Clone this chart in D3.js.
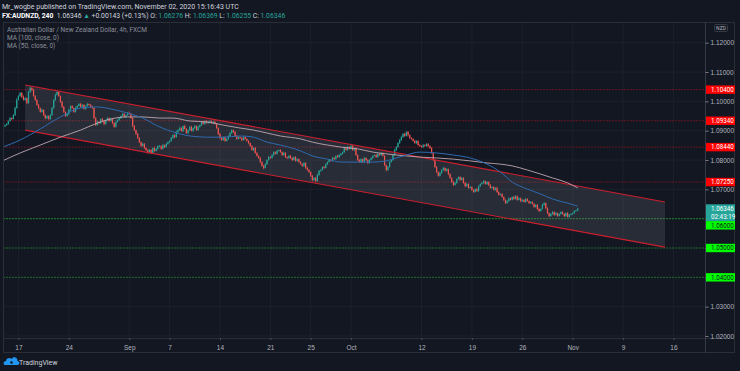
<!DOCTYPE html>
<html>
<head>
<meta charset="utf-8">
<script src="https://cdn.jsdelivr.net/npm/d3@7"></script>
<style>
html, body { margin: 0; padding: 0; background: #131722; }
svg { display: block; font-family: Roboto, "Noto Sans", sans-serif; }
</style>
</head>
<body>
<svg id="chart" width="740" height="371"></svg>
<script>
// 4h candles, one row per trading day (first row has 2 extra bars, last row is partial)
const firstOpen = 1.0915;
const closes = [
    1.0919, 1.0923, 1.0933, 1.0943, 1.0940, 1.0953, 1.0977, 1.1005,
    1.1018, 1.1029, 1.1015, 1.1005, 1.1011, 1.0994,
    1.1032, 1.1046, 1.1039, 1.1018, 1.1005, 1.0988,
    1.0977, 1.0964, 1.0971, 1.0953, 1.0943, 1.0950,
    1.0940, 1.0953, 1.0977, 1.1005, 1.1022, 1.1032,
    1.1018, 1.0998, 1.0981, 1.0964, 1.0950, 1.0957,
    1.0971, 1.0984, 1.0977, 1.0964, 1.0977, 1.0984,
    1.0991, 1.0981, 1.0988, 1.0974, 1.0984, 1.0991,
    1.0988, 1.0981, 1.0977, 1.0943, 1.0919, 1.0930,
    1.0926, 1.0940, 1.0933, 1.0923, 1.0936, 1.0943,
    1.0933, 1.0940, 1.0926, 1.0913, 1.0930, 1.0936,
    1.0943, 1.0950, 1.0957, 1.0947, 1.0953, 1.0960,
    1.0957, 1.0943, 1.0916, 1.0902, 1.0889, 1.0875,
    1.0861, 1.0848, 1.0855, 1.0841, 1.0834, 1.0827,
    1.0834, 1.0824, 1.0841, 1.0831, 1.0838, 1.0848,
    1.0848, 1.0838, 1.0851, 1.0844, 1.0855, 1.0861,
    1.0865, 1.0875, 1.0885, 1.0878, 1.0896, 1.0902,
    1.0909, 1.0899, 1.0916, 1.0906, 1.0892, 1.0902,
    1.0913, 1.0899, 1.0909, 1.0916, 1.0902, 1.0913,
    1.0919, 1.0930, 1.0923, 1.0933, 1.0926, 1.0930,
    1.0933, 1.0926, 1.0930, 1.0923, 1.0909, 1.0889,
    1.0875, 1.0868, 1.0878, 1.0865, 1.0872, 1.0882,
    1.0892, 1.0902, 1.0896, 1.0882, 1.0872, 1.0878,
    1.0875, 1.0868, 1.0878, 1.0872, 1.0865, 1.0858,
    1.0848, 1.0834, 1.0841, 1.0824, 1.0814, 1.0807,
    1.0793, 1.0780, 1.0773, 1.0786, 1.0800, 1.0810,
    1.0807, 1.0817, 1.0827, 1.0821, 1.0831, 1.0834,
    1.0827, 1.0817, 1.0824, 1.0810, 1.0807, 1.0814,
    1.0807, 1.0800, 1.0810, 1.0797, 1.0803, 1.0793,
    1.0786, 1.0780, 1.0790, 1.0773, 1.0766, 1.0759,
    1.0746, 1.0732, 1.0739, 1.0728, 1.0749, 1.0763,
    1.0766, 1.0776, 1.0773, 1.0786, 1.0793, 1.0800,
    1.0797, 1.0807, 1.0803, 1.0814, 1.0810, 1.0817,
    1.0821, 1.0827, 1.0841, 1.0834, 1.0844, 1.0838,
    1.0848, 1.0834, 1.0841, 1.0817, 1.0800, 1.0793,
    1.0803, 1.0793, 1.0807, 1.0800, 1.0790, 1.0800,
    1.0807, 1.0814, 1.0817, 1.0810, 1.0821, 1.0817,
    1.0824, 1.0814, 1.0783, 1.0766, 1.0776, 1.0793,
    1.0800, 1.0817, 1.0834, 1.0844, 1.0858, 1.0868,
    1.0878, 1.0889, 1.0882, 1.0896, 1.0885, 1.0875,
    1.0872, 1.0865, 1.0858, 1.0865, 1.0851, 1.0848,
    1.0844, 1.0851, 1.0848, 1.0855, 1.0848, 1.0841,
    1.0824, 1.0800, 1.0776, 1.0759, 1.0746, 1.0756,
    1.0766, 1.0773, 1.0763, 1.0769, 1.0752, 1.0739,
    1.0725, 1.0715, 1.0722, 1.0735, 1.0742, 1.0732,
    1.0739, 1.0722, 1.0711, 1.0718, 1.0705, 1.0708,
    1.0698, 1.0691, 1.0701, 1.0694, 1.0711, 1.0718,
    1.0722, 1.0728, 1.0718, 1.0725, 1.0715, 1.0705,
    1.0708, 1.0698, 1.0705, 1.0691, 1.0681, 1.0684,
    1.0674, 1.0664, 1.0653, 1.0660, 1.0670, 1.0664,
    1.0674, 1.0667, 1.0677, 1.0664, 1.0670, 1.0660,
    1.0664, 1.0657, 1.0667, 1.0660, 1.0653, 1.0657,
    1.0650, 1.0640, 1.0647, 1.0633, 1.0626, 1.0633,
    1.0647, 1.0653, 1.0636, 1.0619, 1.0609, 1.0616,
    1.0623, 1.0613, 1.0619, 1.0609, 1.0616, 1.0623,
    1.0616, 1.0609, 1.0619, 1.0606, 1.0613, 1.0616,
    1.0619, 1.0626, 1.0628, 1.06346
];
// wick lengths above / below the body, in pips
const upWick = [
    2,3,2,4,2,3,5,6, 4,3,2,5,3,2, 3,5,2,4,3,2, 3,2,4,2,3,2, 2,3,4,3,5,4,
    3,2,4,3,2,3, 4,2,3,2,5,3, 3,4,2,3,2,4, 2,3,4,2,3,5, 3,2,4,3,2,3,
    2,4,3,2,5,3, 3,2,4,3,2,3, 5,3,2,3,2,4, 3,2,4,3,2,3, 4,3,2,5,3,2,
    3,2,4,2,3,3, 2,4,3,2,4,3, 5,3,2,4,3,2, 3,4,2,3,2,4, 2,3,4,2,3,2,
    4,2,3,5,2,3, 3,4,2,3,2,3, 4,3,2,3,4,2, 3,2,4,3,2,3, 2,3,2,4,3,2,
    3,2,4,3,2,4, 2,4,3,2,3,2, 3,2,4,3,2,3, 4,3,2,3,4,2, 3,2,3,2,4,3,
    2,3,2,4,5,3, 3,2,4,3,2,3, 2,4,3,2,3,4, 3,2,4,3,5,2, 4,3,2,3,2,3,
    3,2,4,2,3,2, 2,3,2,4,3,2, 3,2,3,2,4,3, 2,3,4,3,2,4, 5,3,4,2,3,2,
    3,2,4,3,2,3, 2,4,3,2,3,2, 3,2,2,3,2,4, 3,4,2,3,2,3, 2,3,4,3,2,3,
    3,2,3,4,2,3, 2,3,2,4,3,2, 3,4,2,3,2,3, 2,3,2,4,3,2, 3,2,3,4,2,3,
    2,4,3,2,3,2, 3,2,4,3,2,3, 2,3,2,3,4,2, 4,3,2,3,2,3, 3,2,4,2,3,2,
    2,3,2,4,3,3, 2,3,2,2
];
const dnWick = [
    3,2,3,2,4,2,3,2, 2,3,4,2,3,4, 2,3,4,2,3,3, 4,3,2,3,5,3, 3,4,2,2,3,2,
    2,3,3,4,3,2, 3,4,2,3,2,3, 2,3,4,2,3,2, 3,2,3,4,3,2, 4,3,2,5,3,2,
    3,2,4,3,2,3, 2,3,2,3,4,2, 2,3,4,3,4,3, 4,3,2,4,3,5, 3,4,2,3,2,3,
    4,3,2,3,2,3, 3,2,3,4,2,3, 2,3,4,2,3,4, 3,2,3,4,2,3, 2,3,2,3,2,3,
    3,2,3,2,3,4, 4,3,2,3,2,3, 2,3,4,2,3,2, 3,4,2,3,2,4, 3,2,4,3,2,3,
    4,3,5,2,3,2, 3,2,3,2,3,2, 2,3,2,3,4,3, 3,4,2,3,2,3, 2,3,4,3,2,3,
    4,5,3,4,2,3, 3,2,3,2,3,2, 2,3,2,3,2,3, 3,2,3,2,3,2, 2,3,4,3,4,3,
    3,4,2,3,4,2, 2,3,2,3,2,3, 3,2,4,5,3,2, 2,3,2,3,2,3, 3,2,3,2,4,3,
    3,2,3,4,2,3, 2,3,2,3,4,3, 3,4,3,4,3,2, 3,2,3,2,4,3, 3,4,2,3,2,3,
    2,3,4,2,3,2, 4,3,2,3,2,3, 2,3,2,3,4,3, 3,2,3,4,3,2, 3,4,3,2,3,2,
    2,3,2,3,2,4, 3,2,3,2,3,2, 2,3,2,4,3,2, 2,3,4,3,4,3, 3,4,2,3,2,3,
    2,3,4,2,3,2, 3,2,2,2
];

// moving averages, sampled along the bar index
const maIdx = [-3, 9, 21, 33, 45, 55, 63, 73, 82, 92, 100, 110, 120, 130, 140, 148, 156, 164, 176, 183,
    192, 200, 210, 219, 227, 233, 239, 247, 257, 267, 277, 287, 295, 302, 311, 319, 326, 335, 341];
const ma50 = [1.0841, 1.0868, 1.0906, 1.0947, 1.0977, 1.0981, 1.0974, 1.0960, 1.0943, 1.0913, 1.0896,
    1.0882, 1.0878, 1.0878, 1.0882, 1.0878, 1.0861, 1.0851, 1.0831, 1.0814, 1.0803, 1.0793, 1.0793,
    1.0793, 1.0797, 1.0807, 1.0817, 1.0827, 1.0824, 1.0817, 1.0807, 1.0786, 1.0759, 1.0725, 1.0701,
    1.0684, 1.0667, 1.0653, 1.0643];
const ma100 = [1.0793, 1.0824, 1.0851, 1.0878, 1.0902, 1.0926, 1.0940, 1.0947, 1.0947, 1.0943, 1.0943,
    1.0933, 1.0930, 1.0919, 1.0909, 1.0902, 1.0892, 1.0882, 1.0872, 1.0861, 1.0851, 1.0844, 1.0838,
    1.0827, 1.0821, 1.0817, 1.0814, 1.0810, 1.0807, 1.0803, 1.0797, 1.0790, 1.0786, 1.0780, 1.0766,
    1.0752, 1.0739, 1.0722, 1.0705];

const priceTicks = [1.02, 1.03, 1.04, 1.05, 1.06, 1.07, 1.08, 1.09, 1.10, 1.11, 1.12];
const timeTickIdx = [8, 38, 74, 98, 128, 158, 182, 206, 248, 278, 308, 338, 368, 398];
const timeTickLabels = ["17", "24", "Sep", "7", "14", "21", "25", "Oct", "12", "19", "26", "Nov", "9", "16"];

const redLevels = [1.1040, 1.0934, 1.0844, 1.0725];
const greenLevels = [1.0600, 1.0500, 1.0400];
const channelIdx = [12, 393];
const channelTop = [1.1056, 1.0657];
const channelBottom = [1.0902, 1.0503];
const lastPrice = 1.06346;
const countdown = "02:43:19";

// layout
const plot = { left: 3, right: 705, top: 22, bottom: 338 };
const frameRight = 735, frameBottom = 353;
const upColor = "#26a69a", downColor = "#ef5350";
const fmt = d3.format(".5f");

const svg = d3.select("#chart");
svg.append("rect").attr("width", 740).attr("height", 371).attr("fill", "#131722");

const x = d3.scaleLinear().domain([0, 341]).range([5, 577.7]);
const y = d3.scaleLinear().domain([1.02, 1.12]).range([336, 42.7]);

svg.append("clipPath").attr("id", "plotclip")
    .append("rect")
    .attr("x", plot.left).attr("y", plot.top)
    .attr("width", plot.right - plot.left).attr("height", plot.bottom - plot.top);

const g = svg.append("g").attr("clip-path", "url(#plotclip)");

// grid
g.selectAll(".vgrid").data(timeTickIdx).enter().append("line")
    .attr("x1", d => x(d)).attr("x2", d => x(d))
    .attr("y1", plot.top).attr("y2", plot.bottom)
    .attr("stroke", "#1c202b").attr("stroke-width", 1);
g.selectAll(".hgrid").data(priceTicks).enter().append("line")
    .attr("x1", plot.left).attr("x2", plot.right)
    .attr("y1", d => y(d)).attr("y2", d => y(d))
    .attr("stroke", "#1c202b").attr("stroke-width", 1);

// horizontal levels
g.selectAll(".red-level").data(redLevels).enter().append("line")
    .attr("x1", plot.left).attr("x2", plot.right)
    .attr("y1", d => y(d)).attr("y2", d => y(d))
    .attr("stroke", "#9c1420").attr("stroke-opacity", 0.6)
    .attr("stroke-dasharray", "2,1").attr("stroke-width", 1);
g.selectAll(".green-level").data(greenLevels).enter().append("line")
    .attr("x1", plot.left).attr("x2", plot.right)
    .attr("y1", d => y(d)).attr("y2", d => y(d))
    .attr("stroke", "#1f9a2a").attr("stroke-opacity", d => d === 1.06 ? 0.8 : 0.6)
    .attr("stroke-dasharray", "2,1").attr("stroke-width", 1);

// channel
const chan = [
    [x(channelIdx[0]), y(channelTop[0])],
    [x(channelIdx[1]), y(channelTop[1])],
    [x(channelIdx[1]), y(channelBottom[1])],
    [x(channelIdx[0]), y(channelBottom[0])]
];
g.append("path")
    .attr("d", "M" + chan.join("L") + "Z")
    .attr("fill", "#787b86").attr("fill-opacity", 0.22);

// candles
const candles = closes.map((c, i) => {
    const o = i ? closes[i - 1] : firstOpen;
    return {
        i: i, o: o, c: c,
        h: Math.max(o, c) + upWick[i] * 0.0001,
        l: Math.min(o, c) - dnWick[i] * 0.0001
    };
});
const bars = g.selectAll(".bar").data(candles).enter().append("g");
bars.append("line")
    .attr("x1", d => x(d.i)).attr("x2", d => x(d.i))
    .attr("y1", d => y(d.h)).attr("y2", d => y(d.l))
    .attr("stroke", d => d.c >= d.o ? upColor : downColor)
    .attr("stroke-width", 0.7);
bars.append("rect")
    .attr("x", d => x(d.i) - 0.6)
    .attr("width", 1.2)
    .attr("y", d => y(Math.max(d.o, d.c)))
    .attr("height", d => Math.max(0.6, Math.abs(y(d.o) - y(d.c))))
    .attr("fill", d => d.c >= d.o ? upColor : downColor);

// channel borders
[[channelTop[0], channelTop[1]], [channelBottom[0], channelBottom[1]]].forEach(p => {
    g.append("line")
        .attr("x1", x(channelIdx[0])).attr("y1", y(p[0]))
        .attr("x2", x(channelIdx[1])).attr("y2", y(p[1]))
        .attr("stroke", "#cc1f2d").attr("stroke-width", 1.1);
});

// moving averages
const maLine = vals => d3.line()
    .x((d, i) => x(maIdx[i]))
    .y(d => y(d))
    .curve(d3.curveMonotoneX)(vals);
g.append("path").attr("d", maLine(ma100))
    .attr("fill", "none").attr("stroke", "#bda7b1").attr("stroke-width", 0.9);
g.append("path").attr("d", maLine(ma50))
    .attr("fill", "none").attr("stroke", "#2d6bb0").attr("stroke-width", 1);

// frame
svg.append("rect")
    .attr("x", plot.left + 0.5).attr("y", plot.top + 0.5)
    .attr("width", frameRight - plot.left - 1).attr("height", frameBottom - plot.top - 1)
    .attr("fill", "none").attr("stroke", "#2a2e39");
svg.append("line")
    .attr("x1", plot.left).attr("x2", frameRight)
    .attr("y1", plot.bottom + 0.5).attr("y2", plot.bottom + 0.5)
    .attr("stroke", "#2a2e39");

// price labels on the axis (stacked so they do not collide)
const boxH = 8.4;
const labels = redLevels.map(p => ({ p: p, bg: "#ff0000", fg: "#ffffff", rows: [fmt(p)] }))
    .concat([{ p: lastPrice, bg: "#26a69a", fg: "#ffffff", rows: [fmt(lastPrice), countdown] }])
    .concat(greenLevels.map(p => ({ p: p, bg: "#00ff00", fg: "#131722", rows: [fmt(p)] })));
labels.forEach(d => { d.top = y(d.p) - boxH / 2; });
labels.sort((a, b) => a.top - b.top);
let prevBottom = -Infinity;
labels.forEach(d => {
    if (d.top < prevBottom) d.top = prevBottom;
    d.bottom = d.top + boxH * d.rows.length;
    prevBottom = d.bottom;
});

// price axis
const yAxis = d3.axisRight(y).tickValues(priceTicks).tickFormat(fmt)
    .tickSize(3).tickPadding(2);
const ya = svg.append("g").attr("transform", `translate(${plot.right + 0.5},0)`).call(yAxis);
ya.select(".domain").attr("stroke", "#363a45").attr("d", `M0,${plot.top}V${frameBottom}`);
ya.selectAll(".tick line").attr("stroke", "#787b86");
ya.selectAll(".tick text").attr("fill", "#b2b5be").style("font-size", "6.5px");
// tick labels under a box are hidden, ones clipped by a box edge are nudged below it
ya.selectAll(".tick").each(function (t) {
    const ty = y(t);
    labels.forEach(d => {
        if (ty > d.top + 1 && ty < d.bottom) {
            d3.select(this).select("text").remove();
        } else if (ty >= d.bottom - 1 && ty < d.bottom + 3) {
            d3.select(this).select("text").attr("dy", "0.32em").attr("y", d.bottom + 3 - ty);
        }
    });
});

// time axis
const xAxis = d3.axisBottom(x).tickValues(timeTickIdx).tickFormat((d, i) => timeTickLabels[i])
    .tickSize(2).tickPadding(5);
const xa = svg.append("g").attr("transform", `translate(0,${plot.bottom})`).call(xAxis);
xa.select(".domain").remove();
xa.selectAll(".tick line").attr("stroke", "#4a4e59");
xa.selectAll(".tick text").attr("fill", "#b2b5be").style("font-size", "6.5px");

const lab = svg.selectAll(".plabel").data(labels).enter().append("g");
lab.append("rect")
    .attr("x", plot.right + 1).attr("y", d => d.top)
    .attr("width", frameRight - plot.right - 1).attr("height", d => boxH * d.rows.length)
    .attr("fill", d => d.bg);
lab.each(function (d) {
    d.rows.forEach((r, k) => {
        d3.select(this).append("text")
            .attr("x", plot.right + 6).attr("y", d.top + boxH * k + boxH / 2 + 2.2)
            .attr("fill", d.fg).style("font-size", "6.3px").text(r);
    });
});

// currency badge
svg.append("rect").attr("x", 714.5).attr("y", 24.5).attr("width", 13).attr("height", 7)
    .attr("fill", "none").attr("stroke", "#363a45").attr("rx", 1);
svg.append("text").attr("x", 721).attr("y", 30).attr("text-anchor", "middle")
    .attr("fill", "#b2b5be").style("font-size", "5px").text("NZD");

// header
svg.append("text").attr("x", 2).attr("y", 8.8).attr("fill", "#d1d4dc").style("font-size", "7px")
    .text("Mr_wogbe published on TradingView.com, November 02, 2020 15:16:43 UTC");
const hdr = svg.append("text").attr("x", 2).attr("y", 17.6).style("font-size", "6.8px");
[
    ["FX:AUDNZD, 240 ", "#ffffff", "bold"],
    [" 1.06346 ", "#d1d4dc"],
    ["▲", upColor],
    [" +0.00143 (+0.13%) ", "#d1d4dc"],
    ["O:", "#d1d4dc"], [" 1.06276 ", upColor],
    ["H:", "#d1d4dc"], [" 1.06369 ", upColor],
    ["L:", "#d1d4dc"], [" 1.06255 ", upColor],
    ["C:", "#d1d4dc"], [" 1.06346", upColor]
].forEach(s => {
    hdr.append("tspan").attr("fill", s[1]).attr("font-weight", s[2] || "normal")
        .attr("xml:space", "preserve").text(s[0]);
});

// legend
const legend = ["Australian Dollar / New Zealand Dollar, 4h, FXCM", "MA (100, close, 0)", "MA (50, close, 0)"];
svg.selectAll(".legend").data(legend).enter().append("text")
    .attr("x", 7).attr("y", (d, i) => 32.3 + i * 7.8)
    .attr("fill", "#8c8f99").style("font-size", "6.5px")
    .text(d => d);

// logo
const logo = svg.append("g").attr("transform", "translate(4,356)");
logo.append("path")
    .attr("d", "M1,9 C-1,9 -1,5 2,5 C2,2 6,1 7.5,3 C9,0 14,1 13.5,5 C16,5 16,9 13.5,9 Z")
    .attr("fill", "#2196f3");
logo.append("circle").attr("cx", 7.5).attr("cy", 6.5).attr("r", 1.3).attr("fill", "#131722");
svg.append("text").attr("x", 19).attr("y", 364.5).attr("fill", "#d1d4dc")
    .style("font-size", "7px").text("TradingView");
</script>
</body>
</html>
